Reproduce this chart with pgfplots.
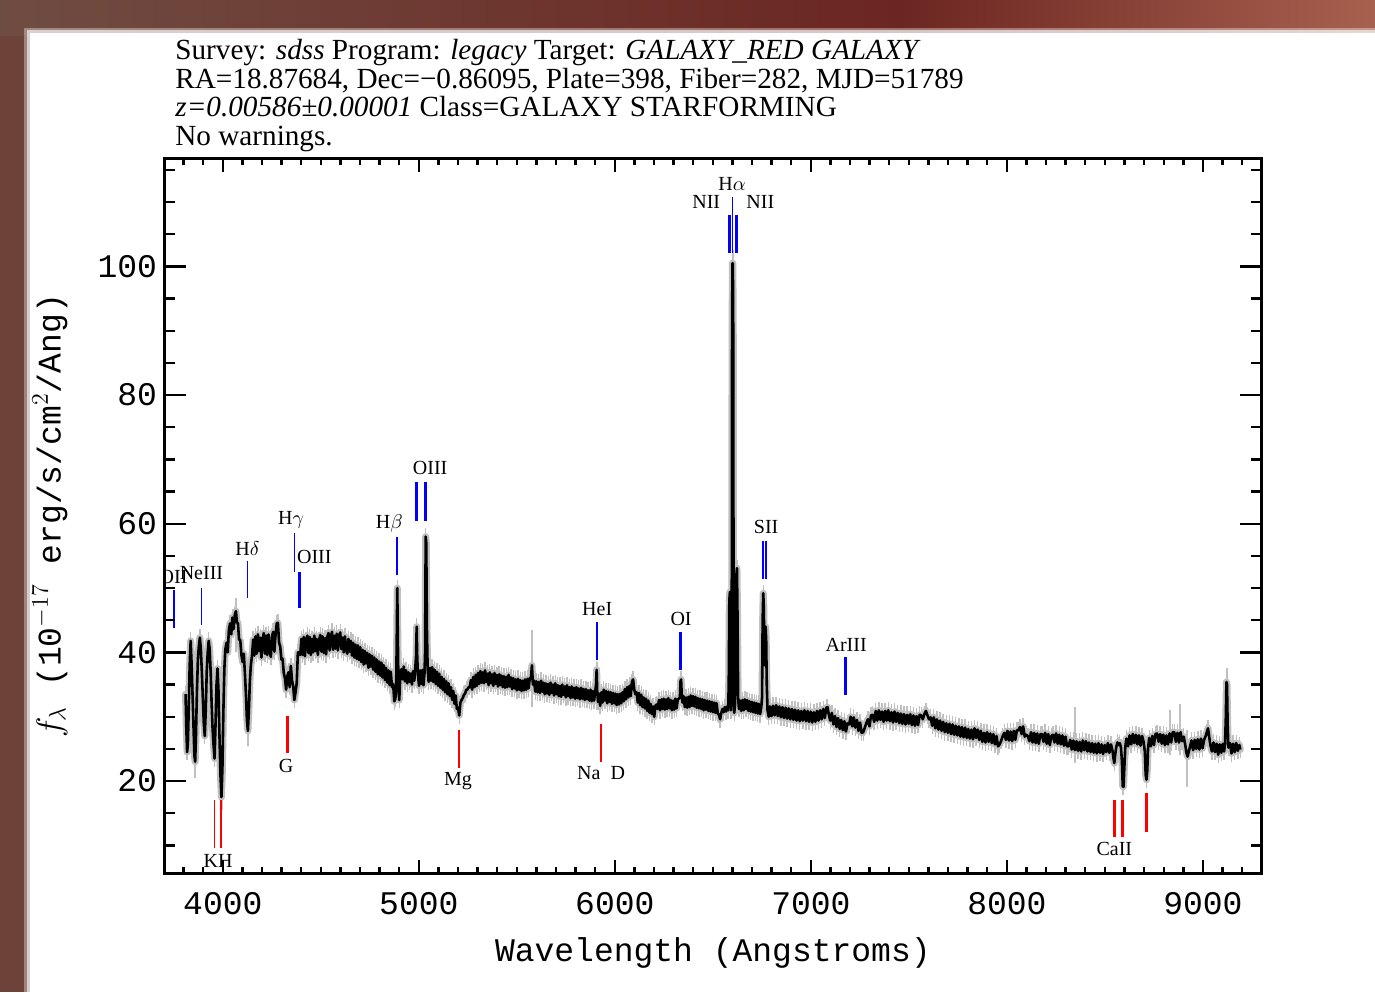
\documentclass[border=0pt]{standalone}
\usepackage{pgfplots}
\pgfplotsset{compat=1.18}
\usepackage{pgfplotstable}
\usepackage{fontspec}
\setmainfont{Liberation Serif}
\newfontfamily\monofont{Liberation Mono}
\definecolor{bandL}{HTML}{6D4238}
\definecolor{topL}{HTML}{6F4C42}
\definecolor{topM}{HTML}{6C2621}
\definecolor{topR}{HTML}{A8604F}
\definecolor{errgray}{RGB}{192,192,192}
\newcommand\ticks{\monofont\fontsize{16.5}{19}\selectfont}
\newcommand\lab{\fontsize{10}{12}\selectfont}

\pgfplotstableread{
w f
3810 33.5
3814 28
3818 24.5
3822 26
3826 31
3831 38
3836 41.8
3841 38
3846 33
3851 28
3855 24
3859 23
3863 27
3868 34
3873 39
3878 41
3883 42.3
3888 40.5
3893 37
3898 33
3903 29
3908 27
3913 31
3918 37
3923 40
3928 41.8
3933 40.5
3938 37
3943 32
3948 28
3953 25.5
3958 23.5
3963 29
3968 35
3973 37.5
3978 34
3983 27
3988 21
3993 17.5
3998 22
4003 31
4008 37.5
4013 40.5
4019 41.5
4025 40
4031 43.5
4037 44.5
4043 42.8
4049 45.4
4055 43.6
4061 45.8
4067 46.4
4072 44.6
4077 44.6
4083 42
4089 41.9
4095 39.6
4101 38.5
4107 39.8
4113 36.6
4118 33.5
4123 29.5
4128 27.8
4133 31
4138 35.5
4143 38
4149 39.5
4155 42
4161 39.5
4167 42.5
4173 39.8
4179 42.8
4185 40.2
4191 42.3
4197 39.2
4203 42
4209 43
4215 39.8
4221 42.6
4227 39.6
4233 42.8
4239 40.4
4245 39.3
4251 42.5
4257 43.2
4263 40.1
4269 42.7
4275 44.5
4281 44.6
4287 41.5
4293 40.9
4299 38.9
4305 39
4311 36.8
4317 36
4323 34.2
4329 36.3
4335 36.9
4341 34.6
4347 37.9
4353 35.6
4359 34.8
4365 32.6
4371 33.8
4377 35.2
4383 40
4389 40
4395 39.6
4401 42.1
4407 39.6
4413 42.4
4419 39.4
4425 41.8
4431 42.6
4437 39.9
4443 42.4
4449 39.6
4455 42.1
4461 40
4467 42.6
4473 40.2
4479 42.1
4485 39.6
4491 41.9
4497 42.7
4503 40.1
4509 42.5
4515 39.9
4521 42.2
4527 39.7
4533 42.4
4539 43
4545 40.3
4551 42.3
4557 43.2
4563 40.4
4569 42.6
4575 40.6
4581 42.9
4587 40.3
4593 42.4
4599 43.1
4605 40.5
4611 42.3
4617 40
4623 42.5
4629 40.7
4635 39.8
4641 42.1
4647 40.1
4653 41.8
4659 39.5
4665 41.5
4671 39.2
4677 41.2
4683 39
4689 41.1
4695 38.8
4701 40.8
4707 38.5
4713 40.4
4719 38.1
4725 40.2
4731 38.3
4737 39.9
4743 37.6
4749 39.7
4755 37.8
4761 39.5
4767 37.3
4773 39.2
4779 37
4785 38.9
4791 36.6
4797 38.6
4803 36.4
4809 38.4
4815 36.1
4821 38
4827 35.7
4833 37.6
4839 35.3
4845 37.2
4851 34.9
4857 37
4863 34.6
4869 35.1
4875 32.4
4880 32.8
4884 34
4887 41
4890 50
4893 42
4896 35
4900 32.6
4905 36
4911 37.4
4917 35.8
4923 37.8
4929 35.5
4935 37.2
4941 35.2
4947 36.9
4953 35.4
4959 36.7
4965 35
4971 37.1
4977 35.6
4982 37.6
4986 39.5
4989 44
4992 39
4996 36.5
5001 34.8
5007 37.2
5013 35.1
5019 37.3
5024 34.9
5029 36.8
5032 40
5035 58
5038 57
5041 44
5045 37.5
5050 35.4
5056 37.6
5062 35.6
5068 37.7
5074 35.4
5080 37.3
5086 35.1
5092 37
5098 34.8
5104 36.7
5110 34.5
5116 36.2
5122 34.2
5128 35.9
5134 33.8
5140 35.5
5146 33.5
5152 35.2
5158 33.2
5164 34.6
5170 32.6
5176 34
5182 32
5188 33.3
5194 31.2
5200 31.4
5206 30.2
5212 32.2
5218 32.6
5224 32.9
5230 33.4
5236 33.6
5242 34.2
5248 34.2
5254 34.6
5260 34.6
5266 35.7
5272 34.2
5278 36.2
5284 34.6
5290 36.5
5296 34.8
5302 36.8
5308 35.1
5314 37.1
5320 35.3
5326 36.9
5332 35.2
5338 37.2
5344 35.4
5350 36.7
5356 34.9
5362 36.9
5368 35.2
5374 36.6
5380 34.8
5386 36.8
5392 35.1
5398 36.5
5404 34.7
5410 36.6
5416 34.9
5422 36.4
5428 34.6
5434 36.3
5440 34.5
5446 36.2
5452 34.6
5458 36.5
5464 34.7
5470 36.1
5476 34.3
5482 36
5488 34.4
5494 35.8
5500 34.1
5506 35.9
5512 34.2
5518 35.7
5524 34
5530 35.6
5536 34.1
5542 35.8
5548 34.2
5554 35.9
5560 34.4
5566 36
5572 35.9
5577 38
5582 35
5588 35.6
5594 33.9
5600 35.5
5606 33.8
5612 35.4
5618 33.7
5624 35.6
5630 33.9
5636 35.3
5642 33.5
5648 35.2
5654 33.6
5660 35.1
5666 33.4
5672 35.3
5678 33.7
5684 35
5690 33.3
5696 35.2
5702 33.5
5708 34.9
5714 33.2
5720 34.8
5726 33.1
5732 35
5738 33.4
5744 34.7
5750 33
5756 34.9
5762 33.2
5768 34.6
5774 32.9
5780 34.7
5786 33
5792 34.5
5798 32.8
5804 34.6
5810 32.9
5816 34.4
5822 32.7
5828 34.5
5834 32.8
5840 34.3
5846 32.6
5852 34.3
5858 32.7
5864 34.1
5870 32.5
5876 34.2
5882 32.4
5888 34
5894 32.5
5899 33.7
5904 35
5907 37.3
5910 34
5914 32.3
5919 33.6
5925 31.7
5931 33.8
5937 32.2
5943 34.2
5949 32.5
5955 34
5961 32.1
5967 33.9
5973 32.3
5979 33.8
5985 32
5991 33.7
5997 32.1
6003 33.6
6009 31.8
6015 33.5
6021 31.9
6027 33.6
6033 32.1
6039 33.8
6045 32.4
6051 34.3
6057 32.7
6063 34.6
6069 33
6075 34.8
6081 33.2
6087 35.4
6093 35.8
6099 34.2
6105 33.5
6111 33.8
6117 32.2
6123 33.7
6129 31.8
6135 33.4
6141 31.5
6147 33
6153 31.3
6159 32.8
6165 30.9
6171 32.5
6177 30.6
6183 32
6189 30.4
6195 31.6
6201 30
6207 31.7
6213 31.9
6219 31.2
6225 32.6
6231 31
6237 32.7
6243 31.2
6249 32.8
6255 31.1
6261 32.7
6267 31.2
6273 32.9
6279 31.3
6285 32.6
6291 31
6297 32.5
6303 31.1
6309 32.8
6315 31.3
6321 32.7
6327 32.8
6332 33
6335 35.5
6338 35.8
6341 33.5
6345 32.2
6351 33.2
6357 31.5
6363 33
6369 31.4
6375 33.1
6381 31.5
6387 33.3
6393 31.7
6399 33.2
6405 31.6
6411 33.1
6417 31.4
6423 32.9
6429 31.3
6435 32.8
6441 31.2
6447 32.7
6453 31
6459 32.6
6465 31.1
6471 32.5
6477 30.9
6483 32.4
6489 30.8
6495 32.3
6501 30.7
6507 32.2
6513 30.6
6519 32.1
6525 30.5
6531 30.3
6537 29.6
6543 30.6
6549 31.2
6555 30.7
6561 31.5
6567 30.8
6573 31.6
6578 31
6581 35
6584 48
6587 49.4
6590 40
6593 31
6596 34
6598 90
6600 100.5
6602 100.5
6604 90
6606 34
6609 30.6
6613 31.8
6617 38
6620 52
6623 53.1
6626 45
6629 33
6633 31.2
6639 32.5
6645 30.9
6651 32.6
6657 31
6663 32.7
6669 31.2
6675 32.6
6681 30.9
6687 32.4
6693 30.8
6699 32.3
6705 30.7
6711 32.2
6717 30.6
6723 32.1
6729 30.5
6735 32
6741 30.4
6747 31.5
6751 33
6754 45
6757 49.2
6760 47
6763 38
6766 41
6769 44
6772 42
6775 35
6779 31
6785 30
6791 31.6
6799 30.1
6807 31.7
6815 30.2
6823 31.8
6831 30.1
6839 31.6
6847 29.9
6855 31.5
6863 29.8
6871 31.4
6879 29.7
6887 31.3
6895 29.6
6903 31.2
6911 29.5
6919 31.1
6927 29.4
6935 31
6943 29.3
6951 30.9
6959 29.4
6967 31
6975 29.3
6983 30.9
6991 29.2
6999 30.8
7007 29.1
7015 30.7
7023 29.2
7031 30.9
7039 29.4
7047 31
7055 29.6
7063 31.2
7071 29.8
7079 31.4
7085 31.5
7091 30.4
7099 29.4
7107 30.6
7115 28.8
7123 30.1
7131 28.4
7139 29.8
7147 28.1
7155 29.5
7163 27.9
7171 29.3
7179 27.7
7187 29
7195 28.8
7203 30
7211 28.5
7219 29.9
7227 28.3
7235 29.5
7243 27.8
7251 29.1
7259 27.5
7267 27.6
7275 28.3
7283 29
7291 29.6
7299 28.5
7307 30.2
7315 30.3
7323 29.2
7331 30.9
7339 29.4
7347 31
7355 29.5
7363 30.8
7371 29.2
7379 30.9
7387 29.4
7395 31
7403 29.3
7411 30.7
7419 29.1
7427 30.8
7435 29.2
7443 30.6
7451 29
7459 30.5
7467 28.9
7475 30.4
7483 28.8
7491 30.3
7499 28.9
7507 30.4
7515 28.7
7523 30.2
7531 28.6
7539 30.1
7547 28.7
7555 30.3
7563 30.2
7571 29.6
7579 30.4
7587 30.9
7595 30.2
7603 29.6
7611 29.9
7619 28.6
7627 29.9
7635 28.2
7643 29.6
7651 28
7659 29.4
7667 27.8
7675 29.2
7683 27.6
7691 29
7699 27.5
7707 28.9
7715 27.3
7723 28.8
7731 27.2
7739 28.6
7747 27.1
7755 28.5
7763 26.9
7771 28.4
7779 26.8
7787 28.3
7795 26.7
7803 28.1
7811 26.6
7819 28
7827 26.5
7835 28.2
7843 26.7
7851 28
7859 26.4
7867 27.8
7875 26.1
7883 27.5
7891 26
7899 27.6
7907 26.1
7915 27.4
7923 25.9
7931 27.3
7939 25.7
7947 27
7955 25.4
7963 25.7
7971 26.3
7979 27
7987 27.5
7995 26.4
8003 27.8
8011 26.3
8019 27.7
8027 26.2
8035 27.8
8043 26.4
8051 27.9
8059 27.9
8067 28.4
8075 27.3
8083 28.5
8091 26.9
8099 27.2
8107 27
8115 26.2
8123 27.6
8131 26
8139 27.5
8147 25.9
8155 27.4
8163 25.8
8171 27.3
8179 27.3
8187 26.1
8195 27.5
8203 25.8
8211 27.3
8219 25.6
8227 27
8235 27.2
8243 26
8251 27.4
8259 25.8
8267 27.2
8275 25.7
8283 27.1
8291 25.5
8299 26.9
8307 25.4
8315 25.4
8323 26.4
8331 24.9
8339 26.3
8347 24.8
8355 26.2
8363 24.7
8371 26.1
8379 24.6
8387 26.3
8395 24.8
8403 26.2
8411 24.6
8419 26
8427 24.5
8435 25.9
8443 24.4
8451 25.8
8459 24.3
8467 25.9
8475 24.4
8483 25.7
8491 24.2
8499 25.6
8507 24.5
8515 25.9
8523 24.4
8531 25.7
8539 24.7
8544 23.5
8548 22.8
8552 24
8558 25.3
8564 26
8570 25.6
8576 25.9
8582 25.2
8587 23
8591 19.2
8595 19.1
8599 22
8604 25.3
8610 26.6
8618 25.4
8626 27.1
8634 25.7
8642 27.3
8650 25.9
8658 27.2
8666 25.7
8674 27.1
8682 25.5
8690 27
8698 26
8704 24.5
8708 21
8712 20.2
8716 21.5
8720 25
8726 26.7
8734 25.4
8742 27
8750 25.6
8758 27.3
8766 27.4
8774 26.1
8782 27.3
8790 25.8
8798 27.2
8806 25.6
8814 27.1
8822 25.7
8830 27.4
8838 26
8846 27.6
8854 27.6
8862 26.1
8870 27.5
8878 26
8886 27.6
8894 26.2
8902 26.9
8910 25.6
8916 24.4
8922 23.8
8928 24.6
8934 25.3
8942 26.3
8950 24.8
8958 26.4
8966 25
8974 26.5
8982 24.9
8990 26.6
8998 25.1
9006 26.4
9014 27
9020 27.6
9026 28.2
9032 26.9
9038 25.6
9046 24.6
9054 26
9062 24.5
9070 25.8
9078 24.1
9086 25.7
9094 24.4
9102 25.8
9108 24.6
9113 25.8
9117 30
9120 35.4
9123 35
9126 29
9130 25.2
9138 25.9
9146 24.3
9154 25.8
9162 24.5
9170 25.9
9178 24.7
9186 25.6
9191 24.9
}\spec

\newcommand\vl[4]{\addplot[#1,forget plot] coordinates {(#2,#3) (#2,#4)};}

\begin{document}
\begin{tikzpicture}
\useasboundingbox (0,0) rectangle (687.5pt,496pt);
% frame
\fill[bandL] (0,0) rectangle (687.5pt,496pt);
\shade[left color=topL, right color=topM] (0pt,478pt) rectangle (450pt,496pt);
\shade[left color=topM, right color=topR] (450pt,478pt) rectangle (687.5pt,496pt);
\fill[white,opacity=0.35] (12pt,0) rectangle (687.5pt,482pt);
\fill[white,opacity=0.6] (13.5pt,0) rectangle (687.5pt,480.8pt);
\fill[white] (15pt,0) rectangle (687.5pt,479.5pt);
% header
\begin{scope}[every node/.style={anchor=base west, inner sep=0pt, font=\fontsize{14.6}{16}\selectfont}]
\node at (87.5pt,466pt) {Survey: \textit{sdss} Program: \textit{legacy} Target: \textit{GALAXY\_RED GALAXY}};
\node at (87.5pt,451.5pt) {RA=18.87684, Dec=−0.86095, Plate=398, Fiber=282, MJD=51789};
\node at (87.5pt,437.5pt) {\textit{z=0.00586±0.00001} Class=GALAXY STARFORMING};
\node at (87.5pt,423pt) {No warnings.};
\end{scope}

\begin{axis}[
  at={(82pt,59.15pt)}, anchor=south west,
  width=548.85pt, height=357.7pt, scale only axis,
  xmin=3700, xmax=9300, ymin=5.6, ymax=116.8,
  axis line style={line width=1.5pt},
  xtick={4000,5000,...,9000},
  minor xtick={3700,3800,...,9300},
  ytick=\empty,
  major tick length=7pt, minor tick length=3.5pt,
  every tick/.style={line width=1.2pt, black},
  tick align=inside,
  xticklabel style={font=\ticks, yshift=-6pt},
  /pgf/number format/1000 sep={},
  /pgf/number format/assume math mode=true,
  xlabel={Wavelength (Angstroms)},
  xlabel style={font=\ticks, at={(axis description cs:0.5,-0.1107)}, anchor=center},
]
% gray error band
\addplot[errgray, line width=0.6pt, forget plot,
  error bars/.cd, y dir=both, y fixed=1.3,
  error bar style={errgray, line width=0.7pt}, error mark=none] table {\spec};
\addplot[errgray, line width=3.5pt, line join=round, line cap=round, forget plot] table {\spec};
% gray noise spikes
\vl{errgray, line width=1pt}{5579}{31.5}{43.5}
\vl{errgray, line width=1pt}{5908}{31}{38.5}
\vl{errgray, line width=1pt}{8349}{22.8}{31.5}
\vl{errgray, line width=1pt}{8834}{24}{31}
\vl{errgray, line width=1pt}{8885}{24}{32}
\vl{errgray, line width=1pt}{8919}{19}{28}
\vl{errgray, line width=1pt}{9122}{30}{37.6}
\vl{errgray, line width=1pt}{3995}{15.5}{22}
\vl{errgray, line width=1pt}{4068}{40}{48.5}
\vl{errgray, line width=1pt}{4128}{25.5}{30}
\vl{errgray, line width=1pt}{3859}{20.5}{25}
\vl{errgray, line width=1pt}{6601}{100}{102.5}
\addplot[black, line width=1.3pt, line join=round, forget plot] table {\spec};
% emission markers (blue)
\vl{blue, line width=1pt}{3749}{43.8}{49.7}
\vl{blue, line width=0.75pt}{3891.4}{44.3}{50.0}
\vl{blue, line width=0.75pt}{4125.8}{48.5}{54.2}
\vl{blue, line width=0.75pt}{4365.9}{52.5}{58.6}
\vl{blue, line width=1.5pt}{4388.8}{46.9}{52.5}
\vl{blue, line width=0.75pt}{4889.8}{52.0}{58.0}
\vl{blue, line width=1.5pt}{4988}{60.4}{66.5}
\vl{blue, line width=1.5pt}{5036.2}{60.4}{66.5}
\vl{blue, line width=0.75pt}{5910}{38.8}{44.7}
\vl{blue, line width=1.5pt}{6337.2}{37.3}{43.2}
\vl{blue, line width=1.5pt}{6586.4}{102.1}{108.0}
\vl{blue, line width=0.75pt}{6601.3}{102.1}{110.8}
\vl{blue, line width=1.5pt}{6622}{102.1}{108.0}
\vl{blue, line width=1.2pt}{6755.8}{51.4}{57.3}
\vl{blue, line width=1.2pt}{6770.2}{51.4}{57.3}
\vl{blue, line width=1.5pt}{7177.6}{33.4}{39.3}
% absorption markers (red)
\vl{red, line width=0.75pt}{3956.8}{9.6}{17.0}
\vl{red, line width=0.75pt}{3991.8}{9.6}{17.0}
\vl{red, line width=1.5pt}{4329.6}{24.4}{30.1}
\vl{red, line width=0.75pt}{5205.6}{22.0}{27.9}
\vl{red, line width=0.75pt}{5928.5}{23.0}{28.9}
\vl{red, line width=1.5pt}{8547.8}{11.3}{17.0}
\vl{red, line width=1.5pt}{8592}{11.3}{17.0}
\vl{red, line width=1.5pt}{8712.8}{12.1}{18.1}
% labels
\begin{scope}[every node/.style={font=\lab, inner sep=0pt, anchor=center}]
\node at (axis cs:3749,51.8) {OII};
\node at (axis cs:3891,52.3) {NeIII};
\node at (axis cs:4126,56.2) {H$\delta$};
\node at (axis cs:4348,60.6) {H$\gamma$};
\node at (axis cs:4467,54.8) {OIII};
\node at (axis cs:4849,60.1) {H$\beta$};
\node at (axis cs:5058,68.7) {OIII};
\node at (axis cs:6598,112.8) {H$\alpha$};
\node at (axis cs:6466,110.0) {NII};
\node at (axis cs:6742,110.0) {NII};
\node at (axis cs:6772,59.5) {SII};
\node at (axis cs:5910,46.7) {HeI};
\node at (axis cs:6338,45.2) {OI};
\node at (axis cs:7180,41.2) {ArIII};
\node at (axis cs:3976,7.6) {KH};
\node at (axis cs:4323,22.3) {G};
\node at (axis cs:5200,20.0) {Mg};
\node at (axis cs:5930,21.2) {Na\ \ D};
\node at (axis cs:8548,9.4) {CaII};
\end{scope}
\end{axis}

\begin{axis}[
  at={(82pt,59.15pt)}, anchor=south west,
  width=548.85pt, height=357.7pt, scale only axis,
  xmin=3700, xmax=9300, ymin=5.6, ymax=116.8,
  axis line style={line width=1.5pt},
  xtick=\empty,
  ytick={20,40,...,100},
  minor ytick={10,15,...,115},
  major tick length=11pt, minor tick length=5.5pt,
  every tick/.style={line width=1.2pt, black},
  tick align=inside,
  yticklabel style={font=\ticks},
  /pgf/number format/assume math mode=true,
  ylabel={$f_\lambda$ (10$^{-17}$ erg/s/cm$^2$/Ang)},
  ylabel style={font=\ticks, at={(axis description cs:-0.1039,0.5)}, anchor=center},
]
\addplot[draw=none, forget plot] coordinates {(4000,20)};
\end{axis}
\end{tikzpicture}
\end{document}
